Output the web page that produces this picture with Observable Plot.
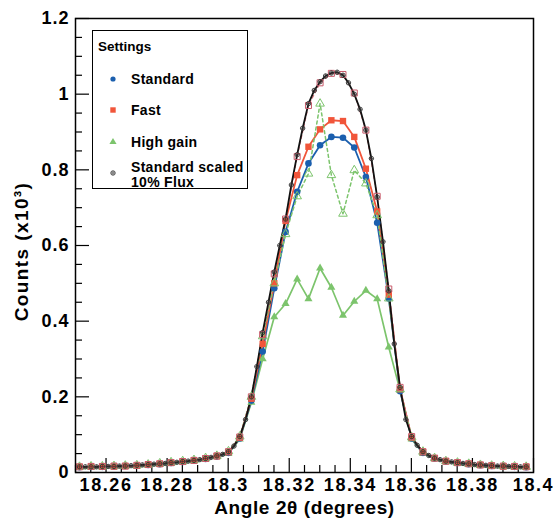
<!DOCTYPE html>
<html><head><meta charset="utf-8">
<script src="https://cdn.jsdelivr.net/npm/d3@7"></script>
<script src="https://cdn.jsdelivr.net/npm/@observablehq/plot@0.6"></script>
<style>
body{margin:0;background:#fff;}
#wrap{position:relative;width:553px;height:524px;font-family:"Liberation Sans",Arial,sans-serif;}
#legend{position:absolute;left:92px;top:30px;width:156px;height:159px;box-sizing:border-box;border:1.5px solid #000;background:#fff;}
#legend svg{position:absolute;left:0;top:0;}
</style></head><body><div id="wrap"></div>
<script>
// Bin centres (degrees 2θ)
const angles = [18.2513, 18.2551, 18.2588, 18.2626, 18.2663, 18.2701, 18.2738, 18.2776, 18.2813, 18.2851,
  18.2888, 18.2926, 18.2963, 18.3001, 18.3038, 18.3076, 18.3113, 18.3151, 18.3188, 18.3226,
  18.3263, 18.3301, 18.3338, 18.3376, 18.3413, 18.3451, 18.3488, 18.3526, 18.3563, 18.3601,
  18.3638, 18.3676, 18.3713, 18.3751, 18.3788, 18.3826, 18.3863, 18.3901, 18.3938, 18.3976];
const fluxAngles = [18.2513, 18.2532, 18.2551, 18.2569, 18.2588, 18.2607, 18.2626, 18.2644, 18.2663, 18.2682,
  18.2701, 18.2719, 18.2738, 18.2757, 18.2776, 18.2794, 18.2813, 18.2832, 18.2851, 18.2869,
  18.2888, 18.2907, 18.2926, 18.2944, 18.2963, 18.2982, 18.3001, 18.3019, 18.3038, 18.3057,
  18.3076, 18.3094, 18.3113, 18.3132, 18.3151, 18.3169, 18.3188, 18.3207, 18.3226, 18.3244,
  18.3263, 18.3282, 18.3301, 18.3319, 18.3338, 18.3357, 18.3376, 18.3394, 18.3413, 18.3432,
  18.3451, 18.3469, 18.3488, 18.3507, 18.3526, 18.3544, 18.3563, 18.3582, 18.3601, 18.3619,
  18.3638, 18.3657, 18.3676, 18.3694, 18.3713, 18.3732, 18.3751, 18.3769, 18.3788, 18.3807,
  18.3826, 18.3844, 18.3863, 18.3882, 18.3901, 18.3919, 18.3938, 18.3957, 18.3976];

// Counts (x10^3)
const standard = [.014,.015,.015,.016,.017,.018,.020,.022,.025,.028,
  .031,.036,.042,.052,.090,.190,.320,.487,.636,.742,
  .817,.865,.887,.885,.859,.781,.660,.460,.215,.090,
  .052,.037,.029,.025,.022,.019,.017,.016,.015,.014];
const fast = [.015,.015,.016,.016,.017,.018,.021,.023,.026,.029,
  .032,.037,.043,.054,.092,.195,.340,.500,.665,.786,
  .861,.907,.931,.929,.887,.803,.690,.470,.220,.092,
  .054,.038,.030,.026,.023,.020,.018,.016,.015,.015];
const highGain = [.013,.014,.015,.015,.016,.017,.019,.021,.024,.027,
  .030,.035,.041,.050,.088,.185,.300,.411,.446,.511,
  .459,.540,.489,.415,.452,.481,.459,.331,.217,.088,
  .050,.036,.028,.024,.021,.018,.016,.015,.014,.013];
const highGainScaled = [.015,.016,.016,.017,.018,.019,.021,.024,.027,.030,
  .033,.038,.044,.056,.095,.200,.360,.500,.630,.730,
  .790,.975,.786,.684,.799,.764,.680,.460,.220,.093,
  .055,.038,.030,.026,.023,.020,.018,.017,.016,.015];
const fastScaled = [.015,.016,.016,.017,.017,.019,.021,.023,.026,.029,
  .032,.037,.044,.055,.094,.200,.365,.525,.670,.835,
  .970,1.030,1.055,1.052,1.003,.905,.730,.485,.225,.095,
  .055,.038,.030,.026,.023,.020,.018,.017,.016,.015];
const standardScaled = [.015,.015,.015,.015,.016,.016,.016,.017,.017,.018,
  .019,.020,.021,.022,.023,.024,.026,.027,.029,.030,
  .032,.034,.037,.040,.044,.048,.055,.070,.095,.140,
  .200,.280,.370,.450,.530,.600,.670,.760,.840,.910,
  .975,1.010,1.033,1.048,1.056,1.058,1.050,1.030,1.000,.960,
  .905,.830,.728,.610,.480,.340,.225,.140,.095,.072,
  .055,.045,.038,.034,.030,.028,.026,.024,.023,.021,
  .020,.019,.018,.017,.017,.016,.016,.015,.015];

const xMajor = [18.26, 18.28, 18.30, 18.32, 18.34, 18.36, 18.38, 18.40];
const xMinor = [18.25, 18.255, 18.265, 18.27, 18.275, 18.285, 18.29, 18.295, 18.305, 18.31, 18.315,
  18.325, 18.33, 18.335, 18.345, 18.35, 18.355, 18.365, 18.37, 18.375, 18.385, 18.39, 18.395];
const yMajor = [0, 0.2, 0.4, 0.6, 0.8, 1.0, 1.2];
const yMinor = [0.05, 0.1, 0.15, 0.25, 0.3, 0.35, 0.45, 0.5, 0.55, 0.65, 0.7, 0.75, 0.85, 0.9, 0.95, 1.05, 1.1, 1.15];
const xTitle = "Angle 2θ (degrees)";
const yTitle = "Counts (x10³)";
const legendLabels = ["Settings", "Standard", "Fast", "High gain", "Standard scaled", "10% Flux"];

const C = {blue: "#1b5fae", red: "#f1553a", green: "#7cc46c", black: "#111"};
const rows = (xs, ys) => xs.map((x, i) => ({x, y: ys[i]}));

const W = 553, H = 524, mL = 75, mR = 20, mT = 18, mB = 52;
const iw = W - mL - mR, ih = H - mT - mB;
const font = {fontSize: 18, fontWeight: "bold"};

const plot = Plot.plot({
  width: W, height: H,
  marginLeft: mL, marginRight: mR, marginTop: mT, marginBottom: mB,
  style: {fontFamily: "'Liberation Sans', Arial, sans-serif", background: "#fff", color: "#000"},
  x: {domain: [18.25, 18.40]},
  y: {domain: [0, 1.2]},
  marks: [
    Plot.tickX(xMajor, {x: d => d, stroke: "#000", strokeWidth: 1.2, insetTop: ih - 14}),
    Plot.tickX(xMinor, {x: d => d, stroke: "#000", strokeWidth: 1.2, insetTop: ih - 7}),
    Plot.tickY(yMajor, {y: d => d, stroke: "#000", strokeWidth: 1.2, insetRight: iw - 14}),
    Plot.tickY(yMinor, {y: d => d, stroke: "#000", strokeWidth: 1.2, insetRight: iw - 7}),
    Plot.axisX(xMajor, {tickSize: 0, tickPadding: 6, tickFormat: d3.format("~g"), label: null, ...font}),
    Plot.axisY(yMajor, {tickSize: 0, tickPadding: 6, tickFormat: d3.format("~g"), label: null, ...font}),
    Plot.text([xTitle], {frameAnchor: "bottom", textAnchor: "middle", dy: 41, text: d => d, fontSize: 19, fontWeight: "bold"}),
    Plot.text([yTitle], {frameAnchor: "left", textAnchor: "middle", dx: -54, dy: 6, rotate: -90, text: d => d, fontSize: 19, fontWeight: "bold"}),

    Plot.line(rows(angles, highGain), {x: "x", y: "y", stroke: C.green, strokeWidth: 1.7}),
    Plot.line(rows(angles, standard), {x: "x", y: "y", stroke: C.blue, strokeWidth: 1.8}),
    Plot.line(rows(angles, fast), {x: "x", y: "y", stroke: C.red, strokeWidth: 1.8}),
    Plot.line(rows(angles, highGainScaled), {x: "x", y: "y", stroke: C.green, strokeWidth: 1.5, strokeDasharray: "3,3"}),
    Plot.line(rows(angles, fastScaled), {x: "x", y: "y", stroke: "#d8707a", strokeWidth: 1.2, strokeDasharray: "3,3"}),
    Plot.line(rows(fluxAngles, standardScaled), {x: "x", y: "y", stroke: C.black, strokeWidth: 1.8}),

    Plot.dot(rows(angles, highGain), {x: "x", y: "y", symbol: "triangle", r: 3, fill: C.green}),
    Plot.dot(rows(angles, standard), {x: "x", y: "y", symbol: "circle", r: 3.3, fill: C.blue}),
    Plot.dot(rows(angles, fast), {x: "x", y: "y", symbol: "square", r: 3.6, fill: C.red}),
    Plot.dot(rows(angles, highGainScaled), {x: "x", y: "y", symbol: "triangle", r: 3.2, fill: "none", stroke: C.green, strokeWidth: 1}),
    Plot.dot(rows(angles, fastScaled), {x: "x", y: "y", symbol: "square", r: 3.4, fill: "none", stroke: "#c85a6a", strokeWidth: 1}),
    Plot.dot(rows(fluxAngles, standardScaled), {x: "x", y: "y", symbol: "circle", r: 2.2, fill: "none", stroke: "#333", strokeWidth: 0.9}),
    Plot.dot(rows(fluxAngles, standardScaled), {x: "x", y: "y", symbol: "plus", r: 1.6, fill: "none", stroke: "#333", strokeWidth: 0.7}),

    Plot.frame({stroke: "#000", strokeWidth: 1.5})
  ]
});

// Slightly wider lettering, as in the reference (ROOT-style Helvetica)
d3.select(plot).selectAll('[aria-label="x-axis tick label"] text').attr("letter-spacing", "1.6px");
d3.select(plot).selectAll('[aria-label="y-axis tick label"] text').attr("letter-spacing", "1px");
d3.select(plot).selectAll("text").filter(function () { return this.textContent === xTitle; }).attr("letter-spacing", "0.6px");
d3.select(plot).selectAll("text").filter(function () { return this.textContent === yTitle; }).attr("letter-spacing", "1.4px");

const wrap = document.getElementById("wrap");
wrap.appendChild(plot);

// Legend box (inside the frame, top-left)
const leg = document.createElement("div");
leg.id = "legend";
wrap.appendChild(leg);
const ls = d3.select(leg).append("svg").attr("width", 156).attr("height", 159)
  .style("font-family", "'Liberation Sans', Arial, sans-serif").style("font-weight", "bold");
ls.append("text").attr("x", 5).attr("y", 20).attr("font-size", 13.5).text(legendLabels[0]);
const entryY = [48, 79, 111, 142];
const textX = 38, markX = 20;
ls.append("circle").attr("cx", markX).attr("cy", entryY[0]).attr("r", 2.6).attr("fill", C.blue);
ls.append("rect").attr("x", markX - 2.7).attr("y", entryY[1] - 2.7).attr("width", 5.4).attr("height", 5.4).attr("fill", C.red);
ls.append("path").attr("d", d3.symbol(d3.symbolTriangle, 22)()).attr("transform", `translate(${markX},${entryY[2]})`).attr("fill", C.green);
ls.append("circle").attr("cx", markX).attr("cy", entryY[3]).attr("r", 2.2).attr("fill", "none").attr("stroke", "#333").attr("stroke-width", 0.9);
ls.append("path").attr("d", `M${markX-1.8},${entryY[3]}h3.6M${markX},${entryY[3]-1.8}v3.6`).attr("stroke", "#333").attr("stroke-width", 0.7);
ls.append("text").attr("x", textX).attr("y", entryY[0] + 5).attr("font-size", 14).attr("letter-spacing", "0.3px").text(legendLabels[1]);
ls.append("text").attr("x", textX).attr("y", entryY[1] + 5).attr("font-size", 14).attr("letter-spacing", "0.3px").text(legendLabels[2]);
ls.append("text").attr("x", textX).attr("y", entryY[2] + 5).attr("font-size", 14).attr("letter-spacing", "0.3px").text(legendLabels[3]);
ls.append("text").attr("x", textX).attr("y", entryY[3] - 1).attr("font-size", 14).attr("letter-spacing", "0.3px").text(legendLabels[4]);
ls.append("text").attr("x", textX).attr("y", entryY[3] + 14).attr("font-size", 14).attr("letter-spacing", "0.3px").text(legendLabels[5]);
</script></body></html>
